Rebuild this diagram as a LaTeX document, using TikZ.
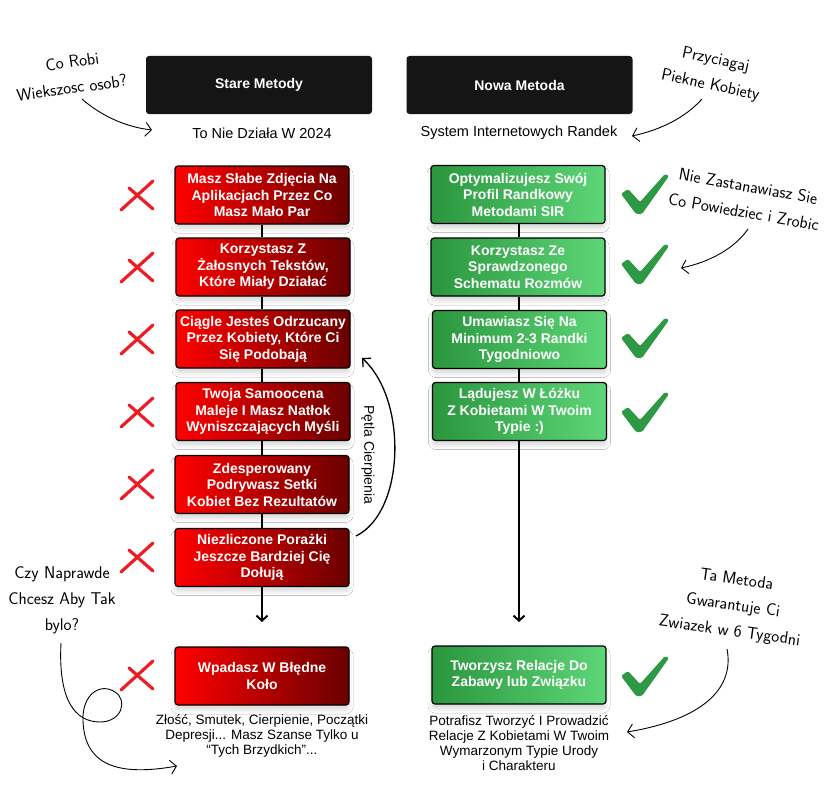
\documentclass[tikz,border=0pt]{standalone}
\usepackage{fontspec}
\newfontfamily\rob{Liberation Sans}
\usetikzlibrary{arrows.meta,shadows.blur}
\definecolor{hdrblack}{HTML}{151515}
\definecolor{redL}{HTML}{FF0000}
\definecolor{redR}{HTML}{6A0000}
\definecolor{grnL}{HTML}{2A963E}
\definecolor{grnR}{HTML}{5ED678}
\definecolor{xred}{HTML}{EE1C25}
\definecolor{ckgreen}{HTML}{2E9945}
\begin{document}
\begin{tikzpicture}[x=1pt,y=-1pt,
  hdr/.style={fill=hdrblack, rounded corners=3pt, minimum width=226pt, minimum height=58pt, text=white, font=\rob\bfseries\fontsize{14}{16}\selectfont, inner sep=0pt},
  sub/.style={font=\rob\fontsize{14.5}{16}\selectfont, inner sep=0pt},
  boxbase/.style={draw=black, line width=1.2pt, rounded corners=3pt, minimum width=174pt, minimum height=58pt, text=white, font=\rob\bfseries\fontsize{14}{16.5}\selectfont, align=center, inner sep=0pt, blur shadow={shadow xshift=0pt, shadow yshift=-5pt, shadow opacity=14, shadow blur radius=4pt}},
  redbox/.style={boxbase, left color=redL, right color=redR},
  grnbox/.style={boxbase, left color=grnL, right color=grnR},
  note/.style={font=\rob\fontsize{13.5}{15}\selectfont, align=center, inner sep=0pt},
  hand/.style={font=\sffamily\fontsize{17}{26}\selectfont, align=center, inner sep=0pt},
  conn/.style={line width=2pt, black},
  connarr/.style={line width=2pt, black, -{Straight Barb[length=5pt,width=11pt,line width=2pt]}},
  annarr/.style={line width=0.9pt, black, -{Straight Barb[length=6pt,width=14pt]}},
  crossmk/.pic={\draw[xred, line width=3.2pt, line cap=round] (-8,-7) -- (16,14);
                \draw[xred, line width=3.2pt, line cap=round] (16,-14) -- (-16,15);},
  checkmk/.pic={\fill[ckgreen, rounded corners=1.5pt] (-24,0) -- (-17,-5) -- (-5,8) -- (20,-20) -- (24,-18) -- (-3,20) -- (-9,20) -- cycle;}
]
\useasboundingbox (0,0) rectangle (833,800);
\fill[white] (0,0) rectangle (833,800);

% headers
\node[hdr] (h1) at (259,85) {Stare Metody};
\node[hdr] (h2) at (519.5,85) {Nowa Metoda};
\node[sub] (s1) at (262,133) {To Nie Działa W 2024};
\node[sub] (s2) at (519,133) {System Internetowych Randek};

% red boxes
\node[redbox] (r1) at (262,195) {Masz Słabe Zdjęcia Na\\Aplikacjach Przez Co\\Masz Mało Par};
\node[redbox] (r2) at (263,267) {Korzystasz Z\\Żałosnych Tekstów,\\Które Miały Działać};
\node[redbox] (r3) at (263,339) {Ciągle Jesteś Odrzucany\\Przez Kobiety, Które Ci\\Się Podobają};
\node[redbox] (r4) at (263,411.5) {Twoja Samoocena\\Maleje I Masz Natłok\\Wyniszczających Myśli};
\node[redbox] (r5) at (262,484.5) {Zdesperowany\\Podrywasz Setki\\Kobiet Bez Rezultatów};
\node[redbox] (r6) at (262,557.5) {Niezliczone Porażki\\Jeszcze Bardziej Cię\\Dołują};
\node[redbox] (r7) at (262,676) {Wpadasz W Błędne\\Koło};

% green boxes
\node[grnbox] (g1) at (518,194.5) {Optymalizujesz Swój\\Profil Randkowy\\Metodami SIR};
\node[grnbox] (g2) at (518,267) {Korzystasz Ze\\Sprawdzonego\\Schematu Rozmów};
\node[grnbox] (g3) at (519.5,339.5) {Umawiasz Się Na\\Minimum 2-3 Randki\\Tygodniowo};
\node[grnbox] (g4) at (519.5,411.5) {Lądujesz W Łóżku\\Z Kobietami W Twoim\\Typie :)};
\node[grnbox] (g5) at (519,675) {Tworzysz Relacje Do\\Zabawy lub Związku};

% connectors
\coordinate (ra) at (262,622);
\coordinate (ga) at (519,622);
\draw[conn] (r1.south -| ra) -- (r2.north -| ra);
\draw[conn] (r2.south -| ra) -- (r3.north -| ra);
\draw[conn] (r3.south -| ra) -- (r4.north -| ra);
\draw[conn] (r4.south -| ra) -- (r5.north -| ra);
\draw[conn] (r5.south -| ra) -- (r6.north -| ra);
\draw[connarr] (r6.south -| ra) -- (ra);
\draw[conn] (g1.south -| ga) -- (g2.north -| ga);
\draw[conn] (g2.south -| ga) -- (g3.north -| ga);
\draw[conn] (g3.south -| ga) -- (g4.north -| ga);
\draw[connarr] (g4.south -| ga) -- (ga);

% crosses and checks
\foreach \y in {195,267,339,412,484,557,675} \pic at (137,\y) {crossmk};
\foreach \y in {194,264,338,412} \pic at (645,\y) {checkmk};
\pic at (645,676) {checkmk};

% bottom notes
\node[note] (n1) at (262,735.5) {Złość, Smutek, Cierpienie, Początki\\Depresji... Masz Szanse Tylko u\\“Tych Brzydkich”...};
\node[note] (n2) at (519,743) {Potrafisz Tworzyć I Prowadzić\\Relacje Z Kobietami W Twoim\\Wymarzonym Typie Urody\\i Charakteru};

% loop of suffering
\node[font=\rob\fontsize{14}{16}\selectfont, rotate=-90, inner sep=0pt] (pc) at (368,455) {Pętla Cierpienia};
\coordinate (pcs) at (356,536);
\coordinate (pce) at (362,358);
\draw[line width=1.3pt, -{Straight Barb[length=6pt,width=12pt]}] (pcs) .. controls (405,512) and (408,400) .. (pce);

% hand annotations
\node[hand, rotate=8] (a1) at (70,75) {\hspace*{8pt}Co Robi\\Wiekszosc osob?};
\coordinate (a1s) at (82,99);
\coordinate (a1e) at (152,130);
\draw[annarr] (a1s) .. controls (100,115) and (125,127) .. (a1e);

\node[hand, rotate=-12] (b1) at (713,73) {Przyciagaj\\Piekne Kobiety};
\coordinate (b1s) at (702,99);
\coordinate (b1e) at (632,136);
\draw[annarr] (b1s) .. controls (685,118) and (660,130) .. (b1e);

\node[hand, rotate=-10] (c1) at (746,199) {Nie Zastanawiasz Sie\\Co Powiedziec i Zrobic};
\coordinate (c1s) at (748,229);
\coordinate (c1e) at (681,268);
\draw[annarr] (c1s) .. controls (735,248) and (710,262) .. (c1e);

\node[hand] (d1) at (62,600) {Czy Naprawde\\Chcesz Aby Tak\\bylo?};
\coordinate (d1s) at (61,643);
\coordinate (d1e) at (177,766);
\draw[annarr] (d1s) .. controls (58,700) and (75,722) .. (100,722) .. controls (122,722) and (128,700) .. (115,692) .. controls (100,682) and (82,695) .. (83,720) .. controls (84,760) and (110,778) .. (d1e);

\node[hand, rotate=-8] (e1) at (733,606) {Ta Metoda\\Gwarantuje Ci\\Zwiazek w 6 Tygodni};
\coordinate (e1s) at (727,649);
\coordinate (e1e) at (627,732);
\draw[annarr] (e1s) .. controls (735,690) and (700,720) .. (e1e);
\end{tikzpicture}
\end{document}
